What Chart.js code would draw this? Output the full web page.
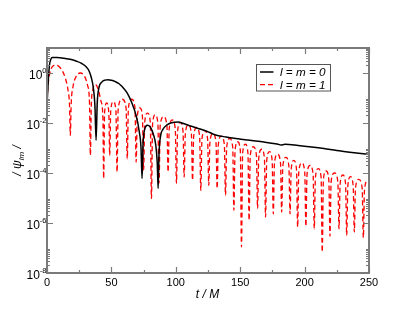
<!DOCTYPE html>
<html><head><meta charset="utf-8">
<script src="https://cdn.jsdelivr.net/npm/chart.js@4/dist/chart.umd.min.js"></script>
<style>html,body{margin:0;padding:0;background:#fff}#wrap{width:415px;height:321px}</style>
</head><body><div id="wrap"><canvas id="c" width="415" height="321"></canvas></div>
<script>
// ---- data ----
const seriesLabels = ['l = m = 0', 'l = m = 1'];
const xTickValues = [0, 50, 100, 150, 200, 250];
const yTickExponents = [0, -2, -4, -6, -8];

const blackT = [0,1,2,3,4,8,13,18,23,27,30,32.5,34.5,36,37.2,38.1,39,40.2,42.7,45,47.4,50,53,55.7,58.5,62.2,65.6,69.5,71.5,73,73.8,74.6,75.4,78,80,82.4,84.5,85.6,86.3,87,88.3,90,92.8,96,101.8,106,112.2,118,124,130.3,139,148.4,156,164,172,179.5,181.6,184.7,195,205.4,215,225,235,242,250];
const blackV = [0.05,0.5,2.24,3.55,4.17,4.17,3.89,3.55,2.95,2.4,1.86,1.26,0.63,0.25,0.05,0.00204,0.063,0.24,0.44,0.52,0.54,0.51,0.45,0.38,0.28,0.16,0.069,0.0174,0.005,0.001,6.0e-5,0.00158,0.00437,0.0081,0.0071,0.0038,0.00126,2.5e-4,2.4e-5,6.3e-4,0.00324,0.0056,0.0081,0.01,0.011,0.0095,0.0074,0.0059,0.0047,0.0034,0.00275,0.00234,0.00209,0.00186,0.00162,0.00141,0.00131,0.0014,0.00126,0.0011,0.00095,0.00079,0.00068,0.00062,0.00055];

const redT = [0,0.8,2,3.5,5.5,7,9.5,12,14.5,16.5,17.5,18.1,18.8,20,22.5,26,29,31.5,33,33.7,34.4,35.5,37.5,40,42,43.4,44,44.7,46.3,48,48.7,49.5,51.5,53.5,54.4,55.3,58.3,61.4,62.3,63.2,65.8,68.3,69.2,70.1,72.1,74.1,75,75.9,78,80.2,81.1,82,84,86.1,87,87.9,90.5,93.1,94,94.9,97.2,99.6,100.5,101.4,103.5,105.6,106.5,107.4,109.7,112.1,113,113.9,116.2,118.5,119.4,120.3,122.5,124.7,125.6,126.5,128.8,131.2,132.1,133,135.3,137.7,138.6,139.5,141.8,144.2,145.1,146,148,150.1,151,151.9,154,156,156.9,157.8,160.2,162.6,163.5,164.4,166.6,168.8,169.7,170.6,172.7,174.8,175.7,176.6,179,181.3,182.2,183.1,185.5,187.8,188.7,189.6,191.6,193.7,194.6,195.5,197.8,200.1,201,201.9,204.2,206.6,207.5,208.4,210.6,212.8,213.7,214.6,216.7,218.8,219.7,220.6,223.2,225.8,226.7,227.6,229.7,231.8,232.7,233.6,235.6,237.7,238.6,239.5,242.1,244.7,245.6,246.5,248.5,250];
const redV = [0.079,0.316,0.89,1.58,2.0,2.04,1.78,1.2,0.56,0.178,0.05,0.0032,0.063,0.25,0.71,1.0,0.76,0.32,0.063,5.1e-4,0.05,0.2,0.35,0.2,0.071,0.0158,6.0e-5,0.025,0.063,0.025,5.1e-4,0.032,0.071,0.032,1.1e-4,0.04,0.089,0.04,3.7e-4,0.04,0.089,0.04,2.75e-4,0.0178,0.04,0.0178,1.26e-4,0.0112,0.025,0.0112,9.5e-6,0.0093,0.021,0.0093,3.9e-5,0.0079,0.0178,0.0079,1.1e-4,0.0059,0.0132,0.0059,3.9e-5,0.0047,0.0105,0.0047,6.9e-5,0.0037,0.0083,0.0037,5.1e-5,0.00295,0.0066,0.00295,2.0e-5,0.00224,0.005,0.00224,3.2e-5,0.0017,0.0038,0.0017,2.4e-5,0.00135,0.003,0.00135,1.29e-5,0.00107,0.0024,0.00107,3.2e-6,7.9e-4,0.00178,7.9e-4,1.1e-7,6.3e-4,0.00141,6.3e-4,1.29e-6,5.0e-4,0.00112,5.0e-4,3.8e-6,4.0e-4,8.9e-4,4.0e-4,1.74e-6,3.2e-4,7.1e-4,3.2e-4,2.3e-6,2.5e-4,5.6e-4,2.5e-4,2.75e-6,1.86e-4,4.2e-4,1.86e-4,2.3e-6,1.41e-4,3.2e-4,1.41e-4,6.9e-7,1.12e-4,2.5e-4,1.12e-4,7.4e-7,8.9e-5,2.0e-4,8.9e-5,5.9e-7,6.8e-5,1.51e-4,6.8e-5,6.9e-8,5.4e-5,1.2e-4,5.4e-5,2.95e-7,4.5e-5,1.0e-4,4.5e-5,5.9e-7,3.7e-5,8.3e-5,3.7e-5,3.2e-7,3.2e-5,7.1e-5,3.2e-5,4.4e-7,2.5e-5,5.6e-5,2.5e-5,2.6e-7,2.1e-5,4.7e-5,4.2e-5];

// ---- chart ----
const FRAME = '#7a7a7a';
const SANS = '"Liberation Sans", Arial, Helvetica, sans-serif';

const decor = {
  id: 'decor',
  afterDatasetsDraw(chart) {
    const ctx = chart.ctx, a = chart.chartArea;
    const xs = chart.scales.x, ys = chart.scales.y;
    ctx.save();
    // frame
    ctx.strokeStyle = FRAME; ctx.lineWidth = 2;
    ctx.strokeRect(a.left, a.top, a.right - a.left, a.bottom - a.top);
    // x ticks
    ctx.lineWidth = 1.2;
    ctx.beginPath();
    for (let v = 0; v <= 250; v += 25) {
      const px = Math.round(xs.getPixelForValue(v)) + 0.5;
      const len = (v % 50 === 0) ? 6 : 3;
      ctx.moveTo(px, a.bottom); ctx.lineTo(px, a.bottom - len);
      ctx.moveTo(px, a.top); ctx.lineTo(px, a.top + len);
    }
    // y ticks
    yTickExponents.forEach(e => {
      const py = Math.round(ys.getPixelForValue(Math.pow(10, e))) + 0.5;
      ctx.moveTo(a.left, py); ctx.lineTo(a.left + 6, py);
      ctx.moveTo(a.right, py); ctx.lineTo(a.right - 6, py);
      for (let k = 2; k <= 9; k++) {
        const pm = Math.round(ys.getPixelForValue(k * Math.pow(10, e))) + 0.5;
        ctx.moveTo(a.left, pm); ctx.lineTo(a.left + 3, pm);
        ctx.moveTo(a.right, pm); ctx.lineTo(a.right - 3, pm);
      }
    });
    ctx.stroke();

    // x tick labels
    ctx.fillStyle = '#000';
    ctx.font = '11px ' + SANS;
    ctx.textAlign = 'center'; ctx.textBaseline = 'alphabetic';
    xTickValues.forEach(v => {
      ctx.fillText(String(v), xs.getPixelForValue(v), a.bottom + 12.5);
    });
    // y tick labels 10^e
    yTickExponents.forEach(e => {
      const py = ys.getPixelForValue(Math.pow(10, e));
      const exp = String(e);
      ctx.font = '12px ' + SANS;
      const w10 = ctx.measureText('10').width;
      ctx.font = '7.5px ' + SANS;
      const we = ctx.measureText(exp).width;
      const right = 46.5;
      ctx.textAlign = 'left';
      ctx.font = '12px ' + SANS;
      ctx.fillText('10', right - we - w10, py + 5.5);
      ctx.font = '7.5px ' + SANS;
      ctx.fillText(exp, right - we, py - 0.5);
    });
    // x title
    ctx.font = 'italic 12px ' + SANS;
    ctx.textAlign = 'center';
    ctx.fillText('t / M', (a.left + a.right) / 2 - 0.5, a.bottom + 24.5);
    // y title (rotated)
    ctx.save();
    ctx.translate(21, (a.top + a.bottom) / 2);
    ctx.rotate(-Math.PI / 2);
    ctx.textAlign = 'left';
    const p1 = '/ \u03c8', p2 = 'lm', p3 = ' /';
    ctx.font = 'italic 12px ' + SANS;
    const w1 = ctx.measureText(p1).width, w3 = ctx.measureText(p3).width;
    ctx.font = 'italic 8px ' + SANS;
    const w2 = ctx.measureText(p2).width;
    let sx = -(w1 + w2 + w3) / 2;
    ctx.font = 'italic 12px ' + SANS;
    ctx.fillText(p1, sx, 0); sx += w1;
    ctx.font = 'italic 8px ' + SANS;
    ctx.fillText(p2, sx, 3); sx += w2;
    ctx.font = 'italic 12px ' + SANS;
    ctx.fillText(p3, sx, 0);
    ctx.restore();

    // legend
    const lx = 256.5, ly = 64.5, lw = 74, lh = 26.5;
    ctx.fillStyle = '#fff';
    ctx.fillRect(lx, ly, lw, lh);
    ctx.strokeStyle = '#555'; ctx.lineWidth = 1;
    ctx.strokeRect(lx, ly, lw, lh);
    chart.data.datasets.forEach((ds, i) => {
      const yy = ly + 7.5 + i * 12.6;
      ctx.strokeStyle = ds.borderColor; ctx.lineWidth = ds.borderWidth;
      ctx.setLineDash(ds.borderDash || []);
      ctx.beginPath(); ctx.moveTo(lx + 3.5, yy); ctx.lineTo(lx + 17, yy); ctx.stroke();
      ctx.setLineDash([]);
      ctx.fillStyle = '#000';
      ctx.font = 'italic 11.7px ' + SANS;
      ctx.textAlign = 'left';
      ctx.fillText(ds.label, lx + 23.5, yy + 4.2);
    });
    ctx.restore();
  }
};

new Chart(document.getElementById('c'), {
  type: 'line',
  data: {
    datasets: [
      { label: seriesLabels[0], data: blackT.map((t, i) => ({x: t, y: blackV[i]})),
        borderColor: '#000000', borderWidth: 1.5, pointRadius: 0, fill: false,
        cubicInterpolationMode: 'monotone' },
      { label: seriesLabels[1], data: redT.map((t, i) => ({x: t, y: redV[i]})),
        borderColor: '#ff0000', borderWidth: 1.3, borderDash: [5, 3], pointRadius: 0, fill: false,
        cubicInterpolationMode: 'monotone' }
    ]
  },
  options: {
    responsive: false, animation: false, devicePixelRatio: 1,
    layout: { padding: { left: 47, top: 48, right: 46, bottom: 48 } },
    plugins: { legend: { display: false }, tooltip: { enabled: false } },
    scales: {
      x: { type: 'linear', min: 0, max: 250, display: false },
      y: { type: 'logarithmic', min: 1e-8, max: 10, display: false }
    }
  },
  plugins: [decor]
});
</script>
</body></html>
